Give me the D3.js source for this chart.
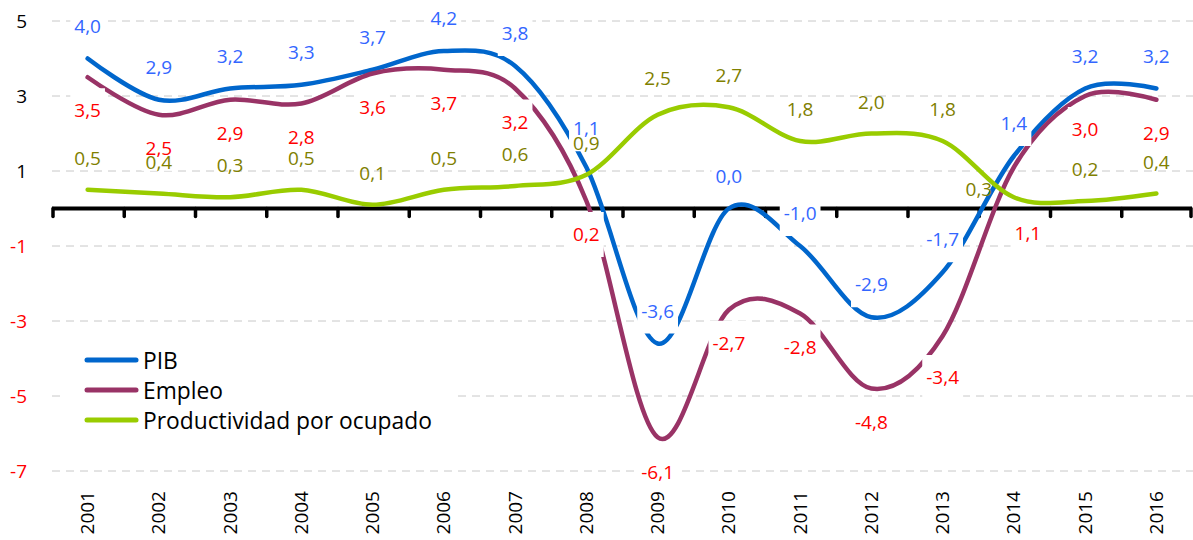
<!DOCTYPE html>
<html>
<head>
<meta charset="utf-8">
<script src="https://cdn.jsdelivr.net/npm/d3@7"></script>
<style>
  body { margin: 0; background: #fff; }
  svg { display: block; font-family: "Open Sans", sans-serif; }
</style>
</head>
<body>
<svg id="canvas" width="1193" height="540"></svg>
<script>

var years = ["2001","2002","2003","2004","2005","2006","2007","2008",
	"2009","2010","2011","2012","2013","2014","2015","2016"];

var pib = [4.0, 2.9, 3.2, 3.3, 3.7, 4.2, 3.8, 1.1, -3.6, 0.0, -1.0, -2.9, -1.7, 1.4, 3.2, 3.2];
var empleo = [3.5, 2.5, 2.9, 2.8, 3.6, 3.7, 3.2, 0.2, -6.1, -2.7, -2.8, -4.8, -3.4, 1.1, 3.0, 2.9];
var productividad = [0.5, 0.4, 0.3, 0.5, 0.1, 0.5, 0.6, 0.9, 2.5, 2.7, 1.8, 2.0, 1.8, 0.3, 0.2, 0.4];

var yTicks = [5, 3, 1, -1, -3, -5, -7];

var seriesNames = ["PIB", "Empleo", "Productividad por ocupado"];

var svg = d3.select("#canvas");

var locale = d3.formatLocale({decimal: ",", thousands: ".", grouping: [3], currency: ["", "€"], minus: "-"});
var fmt = locale.format(".1f");

var x = d3.scaleBand().domain(years).range([52, 1192]);
var cx = function(d) { return x(d) + x.bandwidth() / 2; };
var y = d3.scaleLinear().domain([-7, 5]).range([471, 21]);

// series look, labels placed above or below the point
var series = [
	{name: seriesNames[0], values: pib, line: "#0066cc", label: "#3366ff", dy: -33, box: true},
	{name: seriesNames[1], values: empleo, line: "#993366", label: "#ff0000", dy: 33, box: true},
	{name: seriesNames[2], values: productividad, line: "#99cc00", label: "#808000", dy: -32, box: false}
];

// labels that were dragged by hand in the original
var nudge = {
	"PIB-2008": [0, -6],
	"Empleo-2009": [0, 2],
	"Empleo-2013": [0, 8],
	"Empleo-2014": [14, 33],
	"Productividad por ocupado-2009": [0, -5],
	"Productividad por ocupado-2014": [-35, 24]
};

// gridlines
svg.append("g")
	.selectAll("line")
	.data(yTicks)
	.enter().append("line")
	.attr("x1", 52).attr("x2", 1193)
	.attr("y1", function(d) { return y(d); })
	.attr("y2", function(d) { return y(d); })
	.style("stroke", "#c8c8c8")
	.style("stroke-width", 1)
	.style("stroke-dasharray", "8,6");

// y labels
var yAxis = svg.append("g")
	.attr("transform", "translate(52,0)")
	.call(d3.axisLeft(y).tickValues(yTicks).tickSize(0).tickPadding(25)
		.tickFormat(function(d) { return locale.format("d")(d); }));
yAxis.select(".domain").remove();
yAxis.selectAll("text")
	.style("font-family", "Open Sans")
	.style("font-size", "19px")
	.style("fill", function(d) { return d < 0 ? "#ff0000" : "#000"; });

// x axis at zero
var axisY = y(0);
svg.append("line")
	.attr("x1", 52).attr("x2", 1192)
	.attr("y1", axisY).attr("y2", axisY)
	.style("stroke", "#000")
	.style("stroke-width", 4);

svg.append("g")
	.selectAll("line")
	.data(years.concat(["end"]))
	.enter().append("line")
	.attr("x1", function(d) { return d == "end" ? 1191 : x(d) + 1; })
	.attr("x2", function(d) { return d == "end" ? 1191 : x(d) + 1; })
	.attr("y1", axisY)
	.attr("y2", axisY + 8)
	.style("stroke", "#000")
	.style("stroke-width", 3.5)
	.style("stroke-linecap", "round");

// lines
var line = d3.line()
	.x(function(d, i) { return cx(years[i]); })
	.y(function(d) { return y(d); })
	.curve(d3.curveCardinal.tension(0));

svg.append("g")
	.selectAll("path")
	.data(series)
	.enter().append("path")
	.attr("d", function(s) { return line(s.values); })
	.style("fill", "none")
	.style("stroke", function(s) { return s.line; })
	.style("stroke-width", 4.5)
	.style("stroke-linecap", "round");

// data labels
series.forEach(function(s) {
	var g = svg.append("g");
	s.values.forEach(function(v, i) {
		var n = nudge[s.name + "-" + years[i]] || [0, 0];
		var px = cx(years[i]) + n[0];
		var py = y(v) + s.dy + n[1];
		var lab = g.append("g");
		var rect = lab.append("rect").style("fill", "#fff");
		var t = lab.append("text")
			.attr("x", px)
			.attr("y", py)
			.attr("text-anchor", "middle")
			.attr("dominant-baseline", "central")
			.style("font-size", "19px")
			.style("fill", s.label)
			.text(fmt(v));
		if (s.box) {
			var b = t.node().getBBox();
			rect.attr("x", b.x - 4).attr("width", b.width + 8)
				.attr("y", py - 22).attr("height", 45);
		} else {
			rect.remove();
		}
	});
});

// year labels
svg.append("g")
	.selectAll("text")
	.data(years)
	.enter().append("text")
	.attr("transform", function(d) { return "translate(" + (cx(d) - 0.5) + ",491) rotate(-90)"; })
	.attr("text-anchor", "end")
	.attr("dominant-baseline", "central")
	.style("font-size", "19px")
	.style("fill", "#000")
	.text(function(d) { return d; });

// legend
var legend = svg.append("g");
legend.append("rect")
	.attr("x", 60).attr("y", 340)
	.attr("width", 392).attr("height", 98)
	.style("fill", "#fff");

var legendRows = legend.selectAll("g.row")
	.data(series)
	.enter().append("g")
	.attr("class", "row")
	.attr("transform", function(d, i) { return "translate(0," + (360 + i * 30) + ")"; });

legendRows.append("line")
	.attr("x1", 87).attr("x2", 136)
	.attr("y1", 0).attr("y2", 0)
	.style("stroke", function(d) { return d.line; })
	.style("stroke-width", 5)
	.style("stroke-linecap", "round");

legendRows.append("text")
	.attr("x", 143)
	.attr("y", 0)
	.attr("dominant-baseline", "central")
	.style("font-size", "22.8px")
	.style("fill", "#000")
	.text(function(d) { return d.name; });

</script>
</body>
</html>
